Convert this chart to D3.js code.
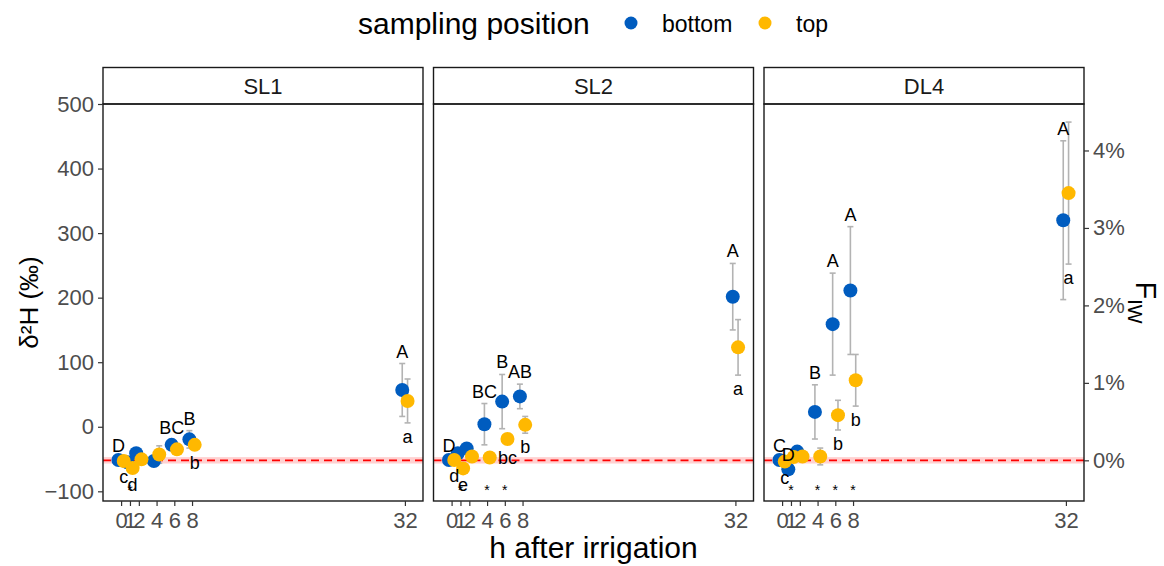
<!DOCTYPE html>
<html>
<head>
<meta charset="utf-8">
<script src="https://cdn.jsdelivr.net/npm/d3@7"></script>
<style>
  body { margin: 0; background: #fff; }
  svg { font-family: "Liberation Sans", Arial, sans-serif; }
</style>
</head>
<body>
<div id="chart"></div>
<script>
// hours after irrigation (x positions)
const hours = [0, 1, 2, 4, 6, 8, 32];
const panels = ["SL1", "SL2", "DL4"];
const positions = ["bottom", "top"];

// delta 2H means and error half-widths
const sl1Bottom = [-51.5, -55, -41, -53, -28, -19.5, 57];
const sl1BottomErr = [3, 3, 4, 4, 8, 13.5, 41];
const sl1Top = [-53, -64, -50.5, -43, -35, -28, 40];
const sl1TopErr = [3, 4, 3, 13.5, 4, 7, 34];

const sl2Bottom = [-51.5, -41, -33.5, 4, 39, 47, 201.5];
const sl2BottomErr = [3, 4, 4, 32, 42, 19, 51.5];
const sl2Top = [-51.5, -64.5, -46, -47.5, -19, 3, 123];
const sl2TopErr = [3, 4, 3, 3, 8, 13, 43];

const dl4Bottom = [-51.5, -66, -38.5, 23, 159, 211, 320];
const dl4BottomErr = [3, 4, 4, 42, 79, 99, 123];
const dl4Top = [-54, -47, -46, -46, 18, 72, 362];
const dl4TopErr = [3, 3, 3, 13, 23, 40, 110];

// significance letters: [hour, label]
const sl1Upper = [[0, "D"], [6, "BC"], [8, "B"], [32, "A"]];
const sl1Lower = [[0, "c"], [1, "d"], [8, "b"], [32, "a"]];
const sl2Upper = [[0, "D"], [4, "BC"], [6, "B"], [8, "AB"], [32, "A"]];
const sl2Lower = [[0, "d"], [1, "e"], [6, "bc"], [8, "b"], [32, "a"]];
const dl4Upper = [[0, "C"], [1, "D"], [4, "B"], [6, "A"], [8, "A"], [32, "A"]];
const dl4Lower = [[0, "c"], [6, "b"], [8, "b"], [32, "a"]];
// hours marked with an asterisk
const sl1Stars = [1];
const sl2Stars = [1, 4, 6];
const dl4Stars = [1, 4, 6, 8];

const yTicks = [-100, 0, 100, 200, 300, 400, 500];
const fTicks = [0, 1, 2, 3, 4]; // percent
const refDelta = -52;      // delta value at F_IW = 0
const deltaPerPct = 120;   // delta units per 1 % F_IW
const refBand = 5;
const starLevel = -105;

const panelData = {
  SL1: { bottom: [sl1Bottom, sl1BottomErr], top: [sl1Top, sl1TopErr], upper: sl1Upper, lower: sl1Lower, stars: sl1Stars },
  SL2: { bottom: [sl2Bottom, sl2BottomErr], top: [sl2Top, sl2TopErr], upper: sl2Upper, lower: sl2Lower, stars: sl2Stars },
  DL4: { bottom: [dl4Bottom, dl4BottomErr], top: [dl4Top, dl4TopErr], upper: dl4Upper, lower: dl4Lower, stars: dl4Stars }
};

const colors = { bottom: "#005cbf", top: "#ffb800" };
const dodge = { bottom: -0.3, top: 0.3 };

const W = 1164, H = 566;
const plotTop = 104, plotBottom = 501, stripTop = 67.5;

const svg = d3.select("#chart").append("svg")
  .attr("width", W).attr("height", H);

const fx = d3.scaleBand().domain(panels).range([103, 1084]).paddingInner(0.0318);
const y = d3.scaleLinear().domain([-115, 500]).range([plotBottom, plotTop]);
const x = d3.scaleLinear().domain([-2.04, 34.04]).range([0, fx.bandwidth()]);

function styleAxis(sel) {
  sel.select(".domain").remove();
  sel.selectAll("line").attr("stroke", "#333").attr("stroke-width", 1.2);
  sel.selectAll("text").attr("font-size", 22).attr("fill", "#4d4d4d")
    .attr("font-family", "Liberation Sans, Arial, sans-serif");
}

panels.forEach(function (p, pi) {
  const g = svg.append("g").attr("transform", "translate(" + fx(p) + ",0)");
  const d = panelData[p];

  // strip
  g.append("rect")
    .attr("x", 0).attr("y", stripTop)
    .attr("width", fx.bandwidth()).attr("height", plotTop - stripTop)
    .attr("fill", "#fff").attr("stroke", "#1a1a1a").attr("stroke-width", 1.4);
  g.append("text")
    .attr("x", fx.bandwidth() / 2).attr("y", (stripTop + plotTop) / 2 + 8)
    .attr("text-anchor", "middle").attr("font-size", 22).attr("fill", "#1a1a1a")
    .text(p);

  // reference band + dashed line
  g.append("rect")
    .attr("x", 0).attr("width", fx.bandwidth())
    .attr("y", y(refDelta + refBand)).attr("height", y(refDelta - refBand) - y(refDelta + refBand))
    .attr("fill", "rgba(255,0,0,0.18)");
  g.append("line")
    .attr("x1", 0).attr("x2", fx.bandwidth())
    .attr("y1", y(refDelta)).attr("y2", y(refDelta))
    .attr("stroke", "#ff0000").attr("stroke-width", 1.6)
    .attr("stroke-dasharray", "8,5");

  // error bars
  positions.forEach(function (s) {
    const means = d[s][0], errs = d[s][1];
    const eb = g.append("g").attr("stroke", "#b3b3b3").attr("stroke-width", 1.6);
    hours.forEach(function (h, i) {
      const cx = x(h + dodge[s]);
      eb.append("line").attr("x1", cx).attr("x2", cx)
        .attr("y1", y(means[i] - errs[i])).attr("y2", y(means[i] + errs[i]));
      [means[i] - errs[i], means[i] + errs[i]].forEach(function (v) {
        eb.append("line").attr("x1", cx - 3).attr("x2", cx + 3)
          .attr("y1", y(v)).attr("y2", y(v));
      });
    });
  });

  // points
  positions.forEach(function (s) {
    const means = d[s][0];
    g.append("g").selectAll("circle")
      .data(hours)
      .enter().append("circle")
      .attr("cx", function (h) { return x(h + dodge[s]); })
      .attr("cy", function (h, i) { return y(means[i]); })
      .attr("r", 7)
      .attr("fill", colors[s]);
  });

  // letters
  d.upper.forEach(function (u) {
    const i = hours.indexOf(u[0]);
    const hi = d.bottom[0][i] + d.bottom[1][i];
    g.append("text")
      .attr("x", x(u[0] + dodge.bottom)).attr("y", y(hi) - 6)
      .attr("text-anchor", "middle").attr("font-size", 18).attr("fill", "#000")
      .text(u[1]);
  });
  d.lower.forEach(function (u) {
    const i = hours.indexOf(u[0]);
    const lo = d.top[0][i] - d.top[1][i];
    g.append("text")
      .attr("x", x(u[0] + dodge.top)).attr("y", y(lo) + 20)
      .attr("text-anchor", "middle").attr("font-size", 18).attr("fill", "#000")
      .text(u[1]);
  });
  d.stars.forEach(function (h) {
    g.append("text")
      .attr("x", x(h)).attr("y", y(starLevel))
      .attr("text-anchor", "middle").attr("font-size", 14).attr("fill", "#000")
      .text("*");
  });

  // panel border
  g.append("rect")
    .attr("x", 0).attr("y", plotTop)
    .attr("width", fx.bandwidth()).attr("height", plotBottom - plotTop)
    .attr("fill", "none").attr("stroke", "#1a1a1a").attr("stroke-width", 1.4);

  // x axis
  const xAxis = d3.axisBottom(x).tickValues(hours).tickSize(5).tickPadding(6);
  g.append("g").attr("transform", "translate(0," + plotBottom + ")").call(xAxis).call(styleAxis);

  if (pi === 0) {
    const yAxis = d3.axisLeft(y).tickValues(yTicks).tickSize(5).tickPadding(4);
    g.append("g").call(yAxis).call(styleAxis);
  }
  if (pi === panels.length - 1) {
    const yF = d3.scaleLinear()
      .domain(y.domain().map(function (v) { return (v - refDelta) / deltaPerPct; }))
      .range(y.range());
    const fAxis = d3.axisRight(yF).tickValues(fTicks).tickSize(5).tickPadding(4)
      .tickFormat(function (v) { return v + "%"; });
    g.append("g").attr("transform", "translate(" + fx.bandwidth() + ",0)").call(fAxis).call(styleAxis);
  }
});

// axis titles
svg.append("text")
  .attr("transform", "translate(38," + (plotTop + plotBottom) / 2 + ") rotate(-90)")
  .attr("text-anchor", "middle").attr("font-size", 26).attr("fill", "#000")
  .text("δ²H (‰)");

const fTitle = svg.append("text")
  .attr("transform", "translate(1136," + (plotTop + plotBottom) / 2 + ") rotate(90)")
  .attr("text-anchor", "middle").attr("font-size", 29).attr("fill", "#000");
fTitle.append("tspan").text("F");
fTitle.append("tspan").attr("font-size", 20).attr("dy", 8).text("IW");

svg.append("text")
  .attr("x", (103 + 1084) / 2).attr("y", 558)
  .attr("text-anchor", "middle").attr("font-size", 30).attr("fill", "#000")
  .text("h after irrigation");

// legend
const legend = svg.append("g");
legend.append("text")
  .attr("x", 358).attr("y", 34)
  .attr("font-size", 30).attr("fill", "#000")
  .text("sampling position");
const legendX = { bottom: 631, top: 765 };
positions.forEach(function (s) {
  legend.append("circle")
    .attr("cx", legendX[s]).attr("cy", 23).attr("r", 6.5)
    .attr("fill", colors[s]);
  legend.append("text")
    .attr("x", legendX[s] + 31).attr("y", 32)
    .attr("font-size", 23).attr("fill", "#000")
    .text(s);
});
</script>
</body>
</html>
